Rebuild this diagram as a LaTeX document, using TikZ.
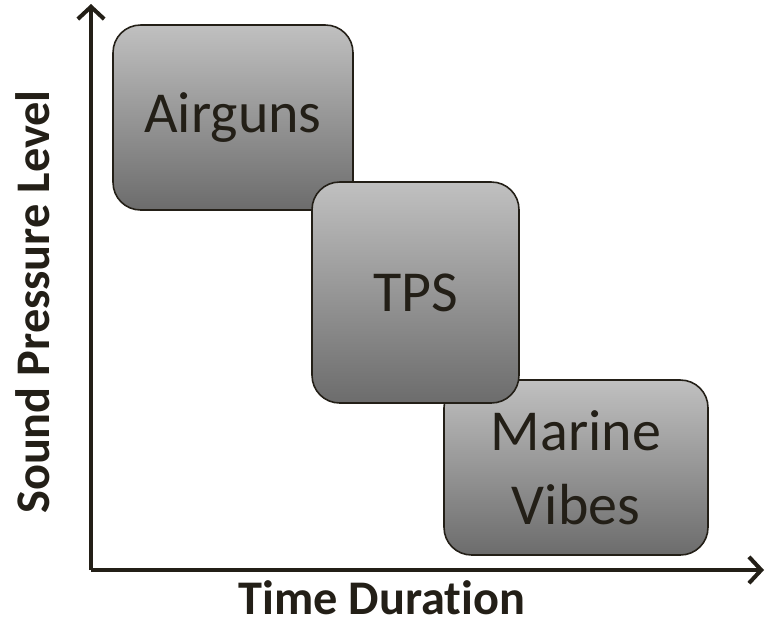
\documentclass[tikz,border=0pt]{standalone}
\usepackage{fontspec}
\setmainfont{Carlito}[Ligatures=NoCommon]
\usetikzlibrary{arrows.meta}
\definecolor{ink}{HTML}{231F17}
\definecolor{boxtop}{HTML}{C0C0C0}
\definecolor{boxbot}{HTML}{6C6C6C}
\tikzset{
  axis/.style={draw=ink, line width=2.3pt, -{Straight Barb[length=7pt,width=15pt,line width=2.3pt]}},
  block/.style={draw=ink, line width=0.9pt, rounded corners=0.55cm, top color=boxtop, bottom color=boxbot,
    text=ink, font=\fontsize{33}{42}\selectfont, align=center, inner sep=0pt},
  axlab/.style={text=ink, font=\fontsize{27.5}{32}\selectfont\bfseries, inner sep=0pt},
}
\begin{document}
\begin{tikzpicture}[x=0.02cm, y=-0.02cm]
  \useasboundingbox (0,0) rectangle (766,626);
  \coordinate (origin) at (91,570);
  \coordinate (ytip) at (91,4);
  \coordinate (xtip) at (764,570);

  % axes
  \draw[axis] (origin) -- (ytip);
  \draw[axis] (origin) -- (xtip);

  % the three sources
  \node[block, minimum width=4.8cm, minimum height=3.7cm] (airguns) at (233,117.5) {Airguns};
  \node[block, minimum width=5.28cm, minimum height=3.5cm] (vibes) at (576,467.5) {Marine\\Vibes};
  \node[block, minimum width=4.14cm, minimum height=4.42cm] (tps) at (415.5,292.5) {TPS};

  \node[axlab, rotate=90] (spl) at (33,302) {Sound Pressure Level};
  \node[axlab] (time) at (382,598) {Time Duration};
\end{tikzpicture}
\end{document}
